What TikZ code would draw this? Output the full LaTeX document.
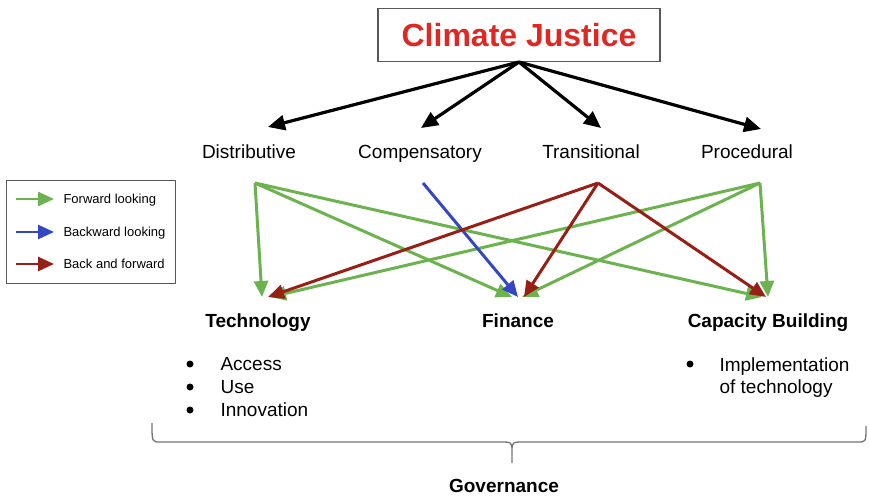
\documentclass[tikz,border=0pt]{standalone}
\usepackage{fontspec}
\setmainfont{Liberation Sans}
\usetikzlibrary{arrows.meta,positioning}

\definecolor{titlered}{RGB}{222,40,36}
\definecolor{fwdgreen}{RGB}{108,178,78}
\definecolor{bwdblue}{RGB}{52,70,196}
\definecolor{bothred}{RGB}{150,32,22}

\tikzset{
  kind/.style = {font=\fontsize{19}{23}\selectfont, anchor=base},
  area/.style = {font=\bfseries\fontsize{19}{23}\selectfont, anchor=base},
  item/.style = {font=\fontsize{19}{23}\selectfont, anchor=base west},
  dot/.style = {circle, fill, inner sep=0pt, minimum size=7pt},
  tree/.style = {line width=3.2pt, -{Triangle[length=17pt,width=15pt]}},
  fwd/.style = {draw=fwdgreen, line width=3pt, -{Triangle[length=16pt,width=14pt]}},
  bwd/.style = {draw=bwdblue, line width=3pt, -{Triangle[length=16pt,width=14pt]}},
  both/.style = {draw=bothred, line width=3pt, -{Triangle[length=16pt,width=14pt]}},
  key/.style = {font=\fontsize{13}{15}\selectfont, anchor=base west}
}

\begin{document}
\begin{tikzpicture}[x=1pt, y=-1pt]
  \useasboundingbox (0,0) rectangle (869,498);

  % title
  \node [draw=black!65, line width=1.4pt, minimum width=282pt, minimum height=53pt,
         text=titlered, font=\bfseries\fontsize{32}{36}\selectfont] (title) at (519,35) {Climate Justice};

  % the four kinds of justice
  \node [kind] (dist) at (249,158) {Distributive};
  \node [kind] (comp) at (420,158) {Compensatory};
  \node [kind] (trans) at (591,158) {Transitional};
  \node [kind] (proc) at (747,158) {Procedural};

  \coordinate (top) at (519,62);
  \draw [tree] (top) -- (268,127);
  \draw [tree] (top) -- (421,128);
  \draw [tree] (top) -- (601,128);
  \draw [tree] (top) -- (761,129);

  % where the arrows start and end
  \coordinate (d0) at (255,183);
  \coordinate (c0) at (423,183);
  \coordinate (t0) at (598,183);
  \coordinate (p0) at (760,183);
  \coordinate (tech) at (262,297);
  \coordinate (fin) at (518,297);
  \coordinate (cap) at (766,297);

  \node [area] (techl) at (258,327) {Technology};
  \node [area] (finl) at (518,327) {Finance};
  \node [area] (capl) at (768,327) {Capacity Building};

  \draw [fwd] (d0) -- (tech);
  \draw [fwd] (d0) -- ([xshift=-6pt]fin);
  \draw [fwd] (d0) -- ([xshift=-4pt]cap);
  \draw [fwd] (p0) -- ([xshift=8pt]tech);
  \draw [fwd] (p0) -- ([xshift=4pt]fin);
  \draw [fwd] (p0) -- ([xshift=2pt]cap);
  \draw [bwd] (c0) -- (fin);
  \draw [both] (t0) -- ([xshift=6pt]tech);
  \draw [both] (t0) -- ([xshift=6pt]fin);
  \draw [both] (t0) -- (cap);

  % bullet lists
  \node [dot] (b1) at (190,364) {};
  \node [dot] (b2) at (190,387) {};
  \node [dot] (b3) at (190,410) {};
  \node [item] (access) at (217,370) {Access};
  \node [item] (use) at (217,393) {Use};
  \node [item] (innov) at (217,416) {Innovation};
  \node [dot] (b4) at (690,364) {};
  \node [item] (impl) at (716,371) {Implementation};
  \node [item] (oftech) at (716,393) {of technology};

  % governance brace
  \draw [black!55, line width=1.3pt]
    (152,423) .. controls (152,442) .. (160,442) -- (500,442)
    .. controls (512,442) .. (512,452) -- (512,463)
    (512,452) .. controls (512,442) .. (524,442) -- (858,442)
    .. controls (866,442) .. (866,426);
  \node [area] (gov) at (504,492) {Governance};

  % legend
  \draw [black!65, line width=1pt] (6,180) rectangle (175,283);
  \coordinate (k1) at (16,199);
  \coordinate (k2) at (16,232);
  \coordinate (k3) at (16,264);
  \draw [fwd, line width=2.6pt] (k1) -- ++(38,0);
  \draw [bwd, line width=2.6pt] (k2) -- ++(38,0);
  \draw [both, line width=2.6pt] (k3) -- ++(38,0);
  \node [key] (fwdk) at (60,203.5) {Forward looking};
  \node [key] (bwdk) at (60,236.5) {Backward looking};
  \node [key] (bothk) at (60,268.5) {Back and forward};
\end{tikzpicture}
\end{document}
